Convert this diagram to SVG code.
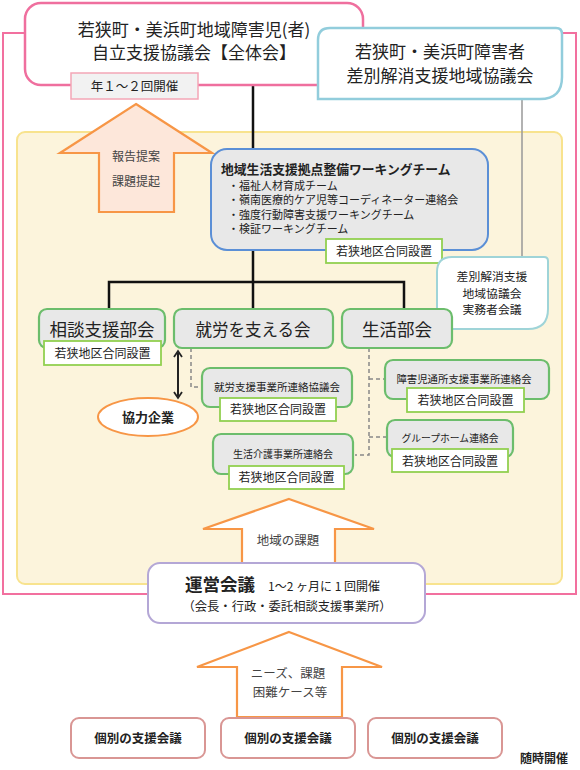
<svg xmlns="http://www.w3.org/2000/svg" width="580" height="770" viewBox="0 0 580 770">
<defs>
<style>
text{font-family:"Noto Sans CJK JP","Noto Sans",sans-serif;fill:#222}
.c{text-anchor:middle}
.b{font-weight:bold}
.node{fill:#e8e8e8;stroke:#6cbd6c;stroke-width:2.2}
.lab{fill:#fff;stroke:#92d050;stroke-width:1.8}
.arrow{stroke:#f79646;stroke-width:2.2}
.dash{fill:none;stroke:#888;stroke-width:1.5;stroke-dasharray:4 3}
.ind{fill:#fff;stroke:#d99694;stroke-width:2}
</style>
<marker id="ah" viewBox="0 0 10 10" refX="5" refY="5" markerWidth="5" markerHeight="5" orient="auto-start-reverse">
<path d="M1,1 L7,5 L1,9" fill="none" stroke="#222" stroke-width="1.8"/>
</marker>
</defs>

<rect x="3" y="33" width="573" height="561" fill="none" stroke="#f2709f" stroke-width="2"/>
<rect x="17" y="132" width="545" height="452" rx="8" fill="#fcf4dc" stroke="#f8e38e" stroke-width="2"/>

<g id="connectors">
<line x1="253" y1="85" x2="253" y2="309" stroke="#111" stroke-width="2.5"/>
<polyline points="109,309 109,282 404,282 404,309" fill="none" stroke="#111" stroke-width="2.5"/>
<line x1="522" y1="99" x2="522" y2="257" stroke="#999" stroke-width="1.5"/>
<polyline class="dash" points="191,348 191,387 202,387"/>
<polyline class="dash" points="369,348 369,455 355,455"/>
<line class="dash" x1="369" y1="379" x2="385" y2="379"/>
<line class="dash" x1="369" y1="437" x2="387" y2="437"/>
<line x1="178" y1="353" x2="178" y2="396" stroke="#222" stroke-width="2" marker-start="url(#ah)" marker-end="url(#ah)"/>
</g>

<g id="zentai">
<rect x="25" y="3" width="338" height="82" rx="16" fill="#fff" stroke="#ef6f9e" stroke-width="2.5"/>
<text class="c" x="194" y="36" font-size="17">若狭町・美浜町地域障害児(者)</text>
<text class="c" x="194" y="59" font-size="17">自立支援協議会【全体会】</text>
<rect x="71" y="73" width="127" height="26" fill="#f2f2f2" stroke="#f4a6b6" stroke-width="1.5"/>
<text class="c" x="134.5" y="91" font-size="12.5">年１～２回開催</text>
</g>

<g id="sabetsu">
<path d="M330,28 H556 Q562,28 562,34 V77 Q562,99 540,99 H318 V40 Q318,28 330,28 Z" fill="#fff" stroke="#92cddc" stroke-width="2.5"/>
<text class="c" x="440" y="58" font-size="17">若狭町・美浜町障害者</text>
<text class="c" x="440" y="82" font-size="17">差別解消支援地域協議会</text>
</g>

<g id="arrow-report">
<path class="arrow" d="M136,104 L212,153 H174 V212 H99 V153 H60 Z" fill="#fde7da"/>
<text class="c" x="136" y="161" font-size="12" style="fill:#444">報告提案</text>
<text class="c" x="136" y="186" font-size="12" style="fill:#444">課題提起</text>
</g>

<g id="wg">
<rect x="211" y="149" width="277" height="101" rx="16" fill="#e8e8e8" stroke="#5b8fd6" stroke-width="2"/>
<text x="221" y="174" font-size="12.8" class="b">地域生活支援拠点整備ワーキングチーム</text>
<text x="228" y="189.5" font-size="11">・福祉人材育成チーム</text>
<text x="228" y="204" font-size="11">・嶺南医療的ケア児等コーディネーター連絡会</text>
<text x="228" y="218.5" font-size="11">・強度行動障害支援ワーキングチーム</text>
<text x="228" y="233" font-size="11">・検証ワーキングチーム</text>
<rect class="lab" x="326" y="239" width="116" height="24"/>
<text class="c" x="384" y="256" font-size="12">若狭地区合同設置</text>
</g>

<g id="jitsumu">
<path d="M452,257 H544 Q548,257 548,261 V309 Q548,329 528,329 H437 V272 Q437,257 452,257 Z" fill="#fff" stroke="#9fd4d8" stroke-width="2"/>
<text class="c" x="492" y="281" font-size="11.8">差別解消支援</text>
<text class="c" x="492" y="298" font-size="11.8">地域協議会</text>
<text class="c" x="492" y="314" font-size="11.8">実務者会議</text>
</g>

<g id="soudan">
<rect class="node" x="39" y="309" width="126" height="39" rx="8"/>
<text class="c" x="102" y="336" font-size="17.5">相談支援部会</text>
<rect class="lab" x="44" y="341" width="117" height="24"/>
<text class="c" x="102.5" y="358" font-size="12">若狭地区合同設置</text>
</g>

<g id="shuro">
<rect class="node" x="174" y="309" width="159" height="39" rx="8"/>
<text class="c" x="253" y="336" font-size="16.5">就労を支える会</text>
</g>

<g id="seikatsu">
<rect class="node" x="342" y="309" width="110" height="39" rx="8"/>
<text class="c" x="397" y="336" font-size="17.5">生活部会</text>
</g>

<g id="kyoryoku">
<ellipse cx="148" cy="417" rx="50" ry="19" fill="#fff" stroke="#f79646" stroke-width="2"/>
<text class="c b" x="148" y="422" font-size="13">協力企業</text>
</g>

<g id="shuro-renraku">
<rect class="node" x="202" y="368" width="150" height="39" rx="8"/>
<text class="c" x="277" y="391" font-size="10.5">就労支援事業所連絡協議会</text>
<rect class="lab" x="220" y="398" width="116" height="23"/>
<text class="c" x="278" y="414" font-size="12">若狭地区合同設置</text>
</g>

<g id="kaigo">
<rect class="node" x="213" y="434" width="140" height="40" rx="8"/>
<text class="c" x="283" y="458" font-size="10">生活介護事業所連絡会</text>
<rect class="lab" x="229" y="466" width="115" height="23"/>
<text class="c" x="286.5" y="482" font-size="12">若狭地区合同設置</text>
</g>

<g id="shogaiji">
<rect class="node" x="385" y="360" width="164" height="39" rx="8"/>
<text class="c" x="464" y="383" font-size="10.4">障害児通所支援事業所連絡会</text>
<rect class="lab" x="407" y="388" width="117" height="24"/>
<text class="c" x="465.5" y="405" font-size="12">若狭地区合同設置</text>
</g>

<g id="gh">
<rect class="node" x="387" y="420" width="126" height="37" rx="8"/>
<text class="c" x="450" y="442" font-size="9.8">グループホーム連絡会</text>
<rect class="lab" x="392" y="449" width="116" height="23"/>
<text class="c" x="450" y="466" font-size="12">若狭地区合同設置</text>
</g>

<g id="arrow-chiiki">
<path class="arrow" d="M289,499 L374,529 H335 V563 H242 V529 H203 Z" fill="#fff"/>
<text class="c" x="288" y="545" font-size="12.5" style="fill:#444">地域の課題</text>
</g>

<g id="unei">
<rect x="148" y="563" width="277" height="60" rx="12" fill="#fff" stroke="#b4a7d6" stroke-width="2"/>
<text x="185" y="591" font-size="17.5" class="b">運営会議</text>
<text x="268" y="591" font-size="12">1～2 ヶ月に 1 回開催</text>
<text class="c" x="287" y="611" font-size="12.3">（会長・行政・委託相談支援事業所）</text>
</g>

<g id="arrow-needs">
<path class="arrow" d="M289,632 L382,667 H342 V717 H237 V667 H197 Z" fill="#fff"/>
<text class="c" x="288" y="678" font-size="12.5" style="fill:#444">ニーズ、課題</text>
<text class="c" x="290" y="697" font-size="12.5" style="fill:#444">困難ケース等</text>
</g>

<g id="kobetsu1">
<rect class="ind" x="71" y="718" width="134" height="40" rx="8"/>
<text class="c b" x="138" y="743" font-size="12.5">個別の支援会議</text>
</g>
<g id="kobetsu2">
<rect class="ind" x="221" y="718" width="134" height="40" rx="8"/>
<text class="c b" x="288" y="743" font-size="12.5">個別の支援会議</text>
</g>
<g id="kobetsu3">
<rect class="ind" x="368" y="718" width="134" height="40" rx="8"/>
<text class="c b" x="435" y="743" font-size="12.5">個別の支援会議</text>
</g>
<text class="b" x="520" y="763" font-size="12">随時開催</text>
</svg>
